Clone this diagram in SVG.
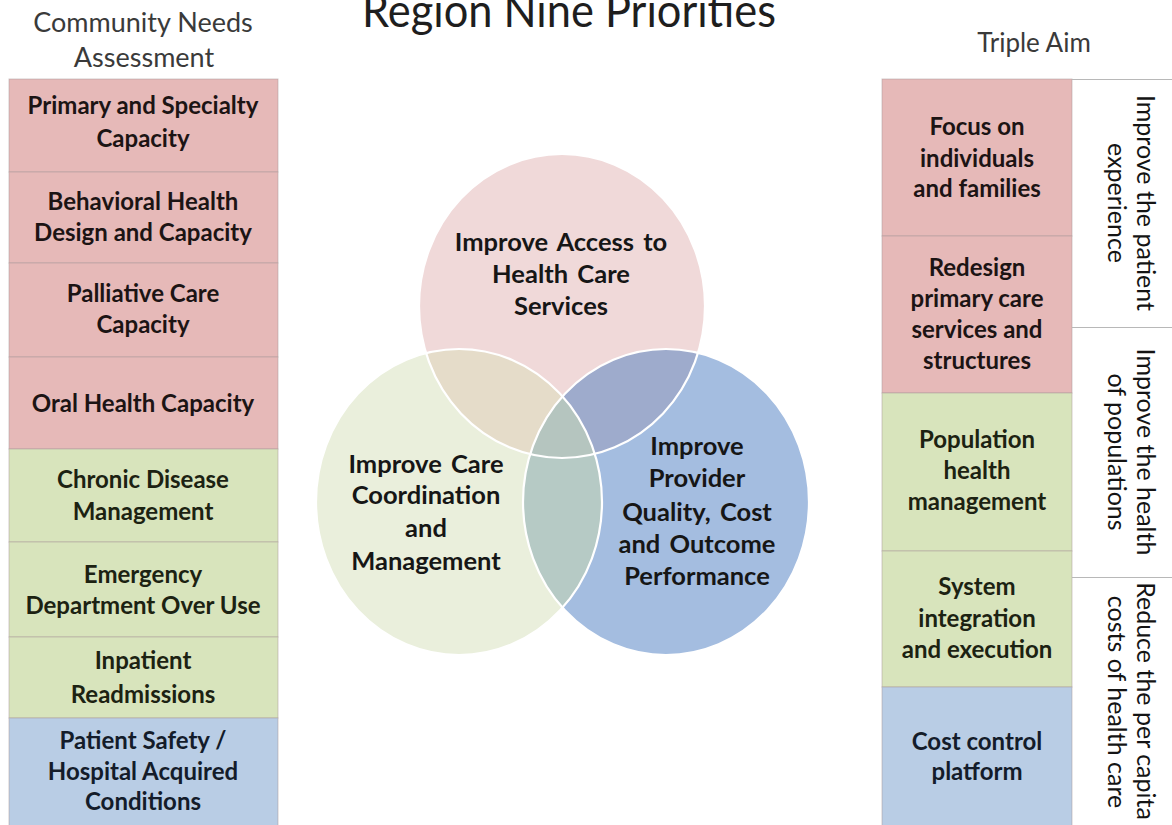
<svg xmlns="http://www.w3.org/2000/svg" width="1172" height="825" viewBox="0 0 1172 825">
  <style>
    .hdr { font-family: Lato, "Liberation Sans", sans-serif; fill: #3a3a3a; text-anchor: middle; }
    .box { font-family: Lato, "Liberation Sans", sans-serif; font-weight: bold; font-size: 24px; text-anchor: middle; fill: #1c1414; }
    .grn { fill: #1c2212; }
    .blu { fill: #141c2a; }
    .ven { font-family: Lato, "Liberation Sans", sans-serif; font-weight: bold; font-size: 25.5px; text-anchor: middle; fill: #161616; word-spacing: 3px; }
    .aim { font-family: Lato, "Liberation Sans", sans-serif; font-size: 25px; text-anchor: middle; fill: #141414; }
    .pink { fill: #e6b9b8; }
    .green { fill: #d8e4bc; }
    .blue { fill: #b9cde5; }
    .cell { stroke: #a89a9a; stroke-opacity: 0.5; stroke-width: 1; }
    .rule { stroke: #b8b8b8; stroke-width: 1; }
    .edge { fill: none; stroke: #ffffff; stroke-width: 2.2; }
  </style>
  <defs>
    <ellipse id="cPink" cx="562" cy="306" rx="143" ry="152"/>
    <ellipse id="cGreen" cx="459" cy="502" rx="143" ry="153"/>
    <ellipse id="cBlue" cx="666" cy="502" rx="143" ry="153"/>
    <clipPath id="inPink"><use href="#cPink"/></clipPath>
    <clipPath id="inGreen"><use href="#cGreen"/></clipPath>
    <clipPath id="inBlue"><use href="#cBlue"/></clipPath>
  </defs>

  <rect width="1172" height="825" fill="#ffffff"/>

  <!-- titles -->
  <text id="title" x="569" y="27" font-family="Lato, 'Liberation Sans', sans-serif" font-size="46" fill="#1e1e1e" text-anchor="middle" textLength="414" lengthAdjust="spacingAndGlyphs">Region Nine Priorities</text>
  <text class="hdr" x="143" y="32" font-size="27">Community Needs</text>
  <text class="hdr" x="144" y="67" font-size="27">Assessment</text>
  <text class="hdr" x="1034" y="52" font-size="26">Triple Aim</text>

  <!-- Community needs column -->
  <g id="need-primary">
    <rect class="pink cell" x="9" y="79" width="269" height="93"/>
    <text class="box" x="143" y="114">Primary and Specialty</text>
    <text class="box" x="143" y="147">Capacity</text>
  </g>
  <g id="need-behavioral">
    <rect class="pink cell" x="9" y="172" width="269" height="91"/>
    <text class="box" x="143" y="210">Behavioral Health</text>
    <text class="box" x="143" y="241">Design and Capacity</text>
  </g>
  <g id="need-palliative">
    <rect class="pink cell" x="9" y="263" width="269" height="94"/>
    <text class="box" x="143" y="302">Palliative Care</text>
    <text class="box" x="143" y="333">Capacity</text>
  </g>
  <g id="need-oral">
    <rect class="pink cell" x="9" y="357" width="269" height="92"/>
    <text class="box" x="143" y="412">Oral Health Capacity</text>
  </g>
  <g id="need-chronic">
    <rect class="green cell" x="9" y="449" width="269" height="93"/>
    <text class="box grn" x="143" y="488">Chronic Disease</text>
    <text class="box grn" x="143" y="520">Management</text>
  </g>
  <g id="need-emergency">
    <rect class="green cell" x="9" y="542" width="269" height="95"/>
    <text class="box grn" x="143" y="583">Emergency</text>
    <text class="box grn" x="143" y="614">Department Over Use</text>
  </g>
  <g id="need-inpatient">
    <rect class="green cell" x="9" y="637" width="269" height="81"/>
    <text class="box grn" x="143" y="669">Inpatient</text>
    <text class="box grn" x="143" y="703">Readmissions</text>
  </g>
  <g id="need-safety">
    <rect class="blue cell" x="9" y="718" width="269" height="110"/>
    <text class="box blu" x="143" y="749">Patient Safety /</text>
    <text class="box blu" x="143" y="780">Hospital Acquired</text>
    <text class="box blu" x="143" y="810">Conditions</text>
  </g>

  <!-- Venn of the three priorities -->
  <g id="venn">
    <use href="#cPink" fill="#f0d9d9"/>
    <use href="#cGreen" fill="#eaefdc"/>
    <use href="#cBlue" fill="#a4bde0"/>
    <g clip-path="url(#inPink)"><use href="#cGreen" fill="#e5dcc9"/></g>
    <g clip-path="url(#inPink)"><use href="#cBlue" fill="#9eabcc"/></g>
    <g clip-path="url(#inGreen)"><use href="#cBlue" fill="#b6cac5"/></g>
    <g clip-path="url(#inGreen)"><g clip-path="url(#inBlue)"><use href="#cPink" fill="#b5c5bf"/></g></g>
    <use href="#cPink" class="edge"/>
    <use href="#cGreen" class="edge"/>
    <use href="#cBlue" class="edge"/>
  </g>
  <g id="priority-access">
    <text class="ven" x="561" y="251">Improve Access to</text>
    <text class="ven" x="561" y="283">Health Care</text>
    <text class="ven" x="561" y="315">Services</text>
  </g>
  <g id="priority-coordination">
    <text class="ven" x="426" y="473">Improve Care</text>
    <text class="ven" x="426" y="504">Coordination</text>
    <text class="ven" x="426" y="537">and</text>
    <text class="ven" x="426" y="570">Management</text>
  </g>
  <g id="priority-quality">
    <text class="ven" x="697" y="455">Improve</text>
    <text class="ven" x="697" y="487">Provider</text>
    <text class="ven" x="697" y="521">Quality, Cost</text>
    <text class="ven" x="697" y="553">and Outcome</text>
    <text class="ven" x="697" y="585">Performance</text>
  </g>

  <!-- Triple Aim column -->
  <g id="aim-focus">
    <rect class="pink cell" x="882" y="79" width="190" height="157"/>
    <text class="box" x="977" y="135">Focus on</text>
    <text class="box" x="977" y="167">individuals</text>
    <text class="box" x="977" y="197">and families</text>
  </g>
  <g id="aim-redesign">
    <rect class="pink cell" x="882" y="236" width="190" height="157"/>
    <text class="box" x="977" y="276">Redesign</text>
    <text class="box" x="977" y="307">primary care</text>
    <text class="box" x="977" y="338">services and</text>
    <text class="box" x="977" y="369">structures</text>
  </g>
  <g id="aim-population">
    <rect class="green cell" x="882" y="393" width="190" height="158"/>
    <text class="box grn" x="977" y="448">Population</text>
    <text class="box grn" x="977" y="479">health</text>
    <text class="box grn" x="977" y="510">management</text>
  </g>
  <g id="aim-system">
    <rect class="green cell" x="882" y="551" width="190" height="136"/>
    <text class="box grn" x="977" y="595">System</text>
    <text class="box grn" x="977" y="627">integration</text>
    <text class="box grn" x="977" y="658">and execution</text>
  </g>
  <g id="aim-cost">
    <rect class="blue cell" x="882" y="687" width="190" height="141"/>
    <text class="box blu" x="977" y="750">Cost control</text>
    <text class="box blu" x="977" y="780">platform</text>
  </g>

  <!-- Triple Aim goals, set sideways -->
  <g id="goal-rules">
    <line class="rule" x1="1072" y1="79.5" x2="1172" y2="79.5"/>
    <line class="rule" x1="1072" y1="327.5" x2="1172" y2="327.5"/>
    <line class="rule" x1="1072" y1="577.5" x2="1172" y2="577.5"/>
  </g>
  <g id="goal-experience">
    <text class="aim" transform="translate(1137 203) rotate(90)">Improve the patient</text>
    <text class="aim" transform="translate(1108 203) rotate(90)">experience</text>
  </g>
  <g id="goal-health">
    <text class="aim" transform="translate(1137 452) rotate(90)">Improve the health</text>
    <text class="aim" transform="translate(1108 452) rotate(90)">of populations</text>
  </g>
  <g id="goal-cost">
    <text class="aim" transform="translate(1137 701) rotate(90)">Reduce the per capita</text>
    <text class="aim" transform="translate(1108 702) rotate(90)">costs of health care</text>
  </g>
</svg>
